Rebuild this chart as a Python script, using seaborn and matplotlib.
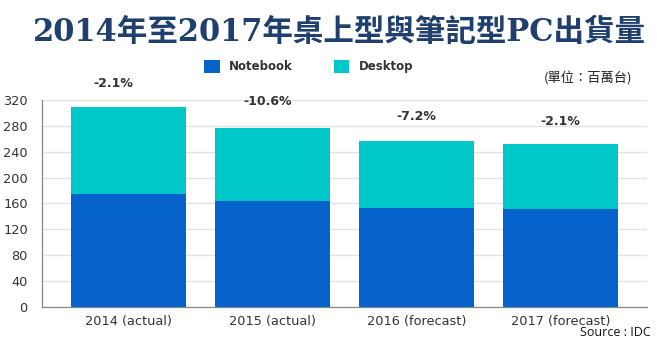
import matplotlib
matplotlib.use("Agg")
import matplotlib.pyplot as plt
import seaborn as sns
import pandas as pd
from matplotlib.patches import Patch

categories = ["2014 (actual)", "2015 (actual)", "2016 (forecast)", "2017 (forecast)"]
notebook = [175, 164, 153, 152]
desktop = [134, 113, 104, 100]
growth = ["-2.1%", "-10.6%", "-7.2%", "-2.1%"]
yticks = [0, 40, 80, 120, 160, 200, 240, 280, 320]

NB_COLOR = "#0563CB"
DT_COLOR = "#00C8C8"

sns.set_theme(style="white")
plt.rcParams['font.family'] = ['DejaVu Sans', 'Noto Sans CJK TC']

df = pd.DataFrame({"cat": categories, "notebook": notebook,
                   "total": [n + d for n, d in zip(notebook, desktop)]})

fig = plt.figure(figsize=(6.57, 3.42), dpi=100)
ax = fig.add_axes([0.0635, 0.103, 0.921, 0.6047])

sns.barplot(data=df, x="cat", y="total", color=DT_COLOR, saturation=1, width=0.8, ax=ax, zorder=3)
sns.barplot(data=df, x="cat", y="notebook", color=NB_COLOR, saturation=1, width=0.8, ax=ax, zorder=3)
for p in ax.patches:
    p.set_edgecolor("none")

ax.set_xlim(-0.6, 3.6)
ax.set_ylim(0, 320)
ax.set_yticks(yticks)
ax.yaxis.grid(True, color="#e3e3e3", linewidth=1, zorder=0)
ax.set_axisbelow(True)
ax.set_xlabel("")
ax.set_ylabel("")
ax.tick_params(axis="both", length=0, labelsize=9.3, colors="#333333")
ax.tick_params(axis="x", pad=6)
ax.tick_params(axis="y", pad=10)
for s in ["top", "right"]:
    ax.spines[s].set_visible(False)
ax.spines["left"].set_color("#888888")
ax.spines["bottom"].set_color("#888888")
ax.spines["left"].set_linewidth(0.9)
ax.spines["bottom"].set_linewidth(0.9)

offsets = [36, 40, 38, 35]
xshift = [-0.1, -0.03, 0, 0]
for i, (g, t) in enumerate(zip(growth, df["total"])):
    ax.text(i + xshift[i], t + offsets[i], g, ha="center", va="center", fontsize=9,
            fontweight="bold", color="#333333", clip_on=False)

fig.text(0.516, 0.905, "2014年至2017年桌上型與筆記型PC出貨量", ha="center", va="center",
         fontsize=22, fontweight="bold", color="#1F3F6E",
         family=['DejaVu Serif', 'Noto Sans CJK TC'])

handles = [Patch(facecolor=NB_COLOR, edgecolor="none"), Patch(facecolor=DT_COLOR, edgecolor="none")]
leg = fig.legend(handles, ["Notebook", "Desktop"], loc="center", bbox_to_anchor=(0.47, 0.805),
                 ncol=2, frameon=False, handlelength=1.3, handleheight=1.3, columnspacing=3.5,
                 prop={"weight": "bold", "size": 8.5})
for t in leg.get_texts():
    t.set_color("#333333")

fig.text(0.962, 0.772, "(單位：百萬台)", ha="right", va="center", fontsize=9.5,
         color="#222222", family=['Noto Sans CJK TC', 'DejaVu Sans'])
fig.text(0.99, 0.027, "Source : IDC", ha="right", va="center", fontsize=9, color="#111111",
         family=['Open Sans'])

fig.savefig("out.png", dpi=100)
